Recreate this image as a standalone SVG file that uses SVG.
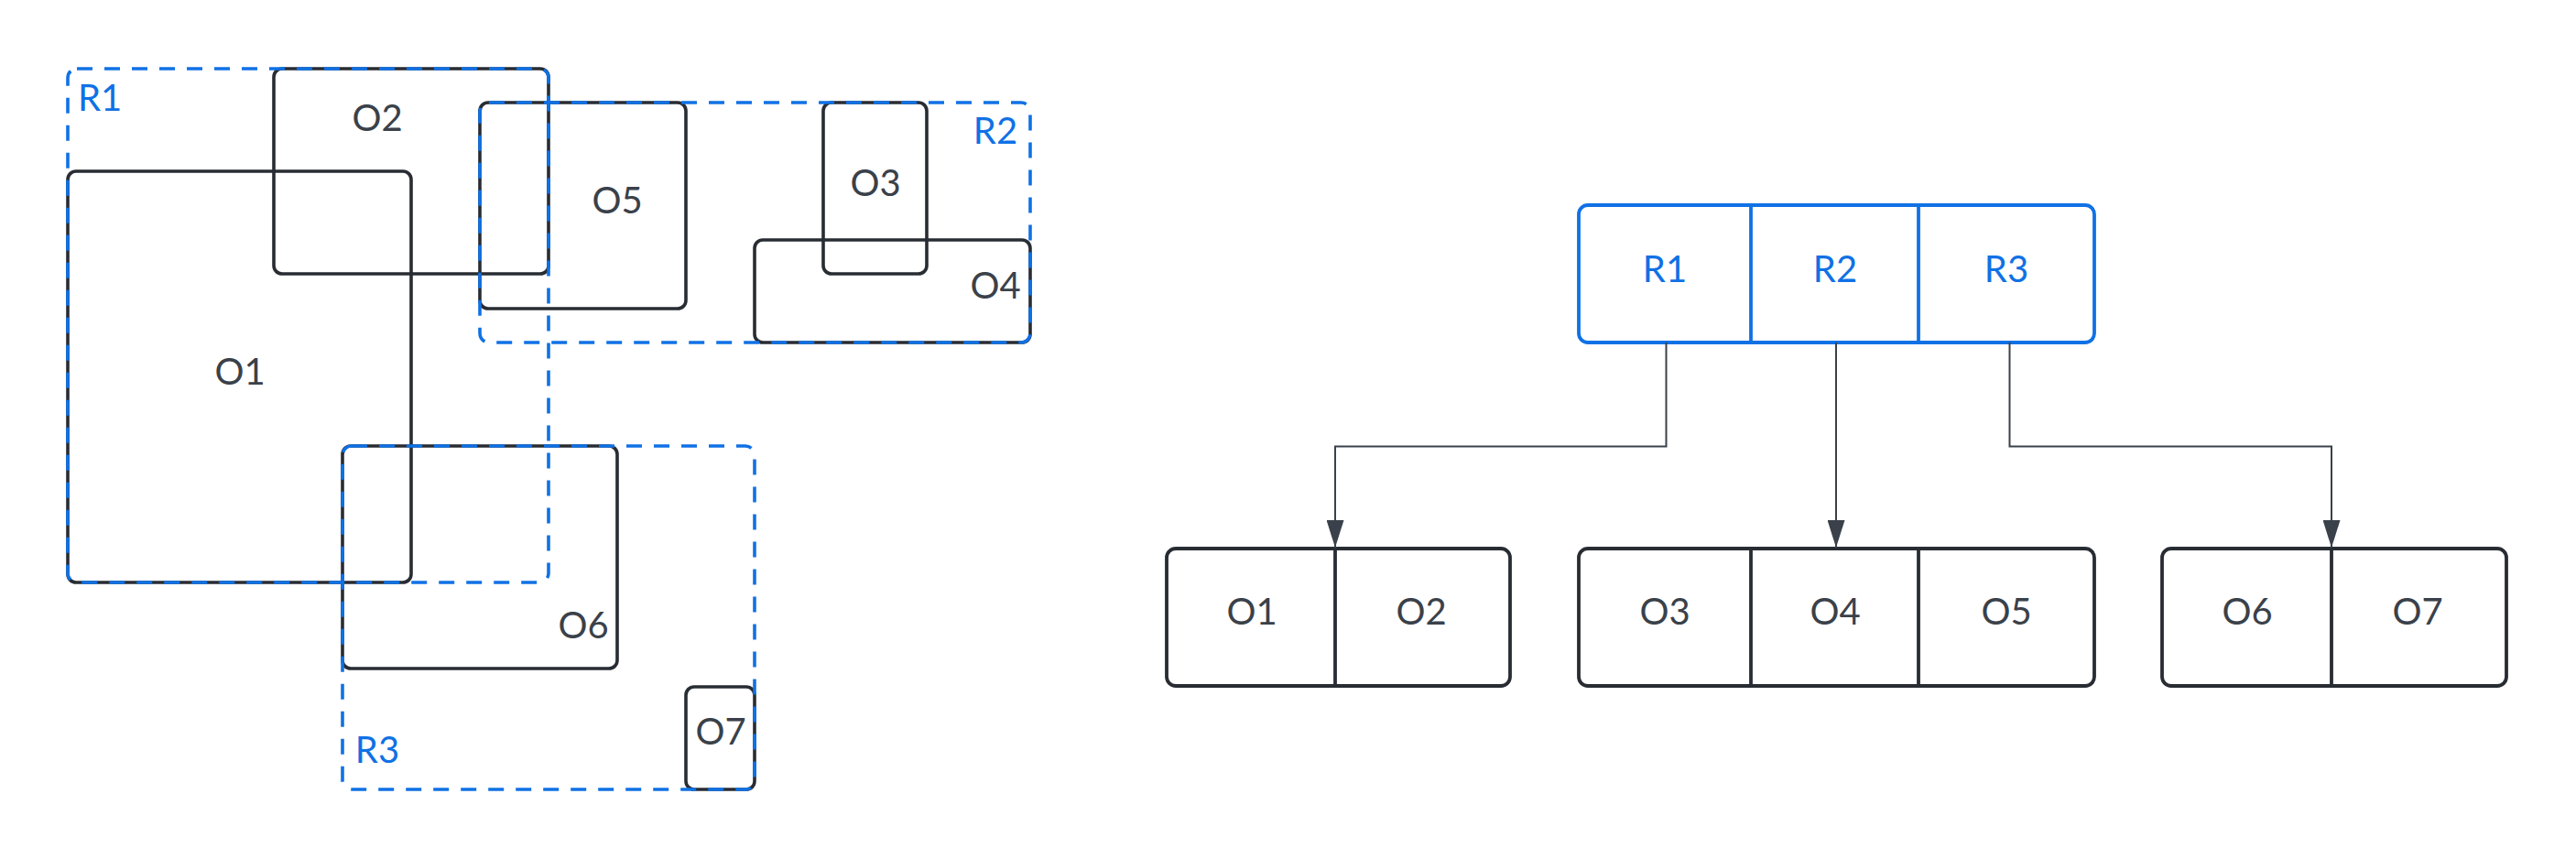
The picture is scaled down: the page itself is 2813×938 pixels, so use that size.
<svg xmlns="http://www.w3.org/2000/svg" width="2813" height="938" viewBox="0 0 2813 938">
<style>
.bg{fill:#ffffff}
.obj{fill:none;stroke:#282c33;stroke-width:3.6}
.reg{fill:none;stroke:#1071e5;stroke-width:3.6;stroke-dasharray:17 13}
.tbl{fill:none;stroke:#282c33;stroke-width:3.8}
.tblr{fill:none;stroke:#1071e5;stroke-width:3.8}
.div{stroke:#282c33;stroke-width:3.8}
.divr{stroke:#1071e5;stroke-width:3.8}
.t{font-family:Lato,"Liberation Sans",sans-serif;font-size:40px;fill:#3a414a}
.tr{font-family:Lato,"Liberation Sans",sans-serif;font-size:40px;fill:#1071e5}
.c{text-anchor:middle}
.conn{fill:none;stroke:#3a414a;stroke-width:2}
</style>
<defs>
<marker id="arr" viewBox="0 0 30 19" refX="30" refY="9.5" markerWidth="30" markerHeight="19" markerUnits="userSpaceOnUse" orient="auto">
<path d="M0 0 L30 9.5 L0 19 Z" fill="#3a414a"/>
</marker>
</defs>
<rect class="bg" x="0" y="0" width="2813" height="938"/>

<!-- Spatial objects -->
<g id="O1"><rect class="obj" x="74" y="187" width="375" height="449" rx="9"/><text class="t c" x="262" y="420">O1</text></g>
<g id="O2"><rect class="obj" x="299" y="75" width="300" height="224" rx="9"/><text class="t c" x="412" y="143">O2</text></g>
<g id="O5"><rect class="obj" x="524" y="112" width="225" height="225" rx="9"/><text class="t c" x="674" y="233">O5</text></g>
<g id="O3"><rect class="obj" x="899" y="112" width="113" height="187" rx="9"/><text class="t c" x="956" y="214">O3</text></g>
<g id="O4"><rect class="obj" x="824" y="262" width="301" height="112" rx="9"/><text class="t c" x="1087" y="326">O4</text></g>
<g id="O6"><rect class="obj" x="374" y="487" width="300" height="243" rx="9"/><text class="t c" x="637" y="697">O6</text></g>
<g id="O7"><rect class="obj" x="749" y="750" width="75" height="112" rx="9"/><text class="t c" x="787" y="813">O7</text></g>

<!-- Regions -->
<g id="R1"><rect class="reg" x="74" y="75" width="525" height="561" rx="10"/><text class="tr" x="85" y="121">R1</text></g>
<g id="R2"><rect class="reg" x="524" y="112" width="601" height="262" rx="10"/><text class="tr c" x="1087" y="157">R2</text></g>
<g id="R3"><rect class="reg" x="374" y="487" width="450" height="375" rx="10"/><text class="tr c" x="412" y="833">R3</text></g>

<!-- Tree -->
<g id="root">
<rect class="tblr" x="1724" y="224" width="563" height="150" rx="10"/>
<line class="divr" x1="1912" y1="224" x2="1912" y2="374"/>
<line class="divr" x1="2095" y1="224" x2="2095" y2="374"/>
<text class="tr c" x="1818" y="308">R1</text>
<text class="tr c" x="2004" y="308">R2</text>
<text class="tr c" x="2191" y="308">R3</text>
</g>
<g id="leaf1">
<rect class="tbl" x="1274" y="599" width="375" height="150" rx="10"/>
<line class="div" x1="1458" y1="599" x2="1458" y2="749"/>
<text class="t c" x="1367" y="682">O1</text>
<text class="t c" x="1552" y="682">O2</text>
</g>
<g id="leaf2">
<rect class="tbl" x="1724" y="599" width="563" height="150" rx="10"/>
<line class="div" x1="1912" y1="599" x2="1912" y2="749"/>
<line class="div" x1="2095" y1="599" x2="2095" y2="749"/>
<text class="t c" x="1818" y="682">O3</text>
<text class="t c" x="2004" y="682">O4</text>
<text class="t c" x="2191" y="682">O5</text>
</g>
<g id="leaf3">
<rect class="tbl" x="2361" y="599" width="376" height="150" rx="10"/>
<line class="div" x1="2546" y1="599" x2="2546" y2="749"/>
<text class="t c" x="2454" y="682">O6</text>
<text class="t c" x="2640" y="682">O7</text>
</g>

<g id="connectors">
<path class="conn" d="M1819.5 374 V487.5 H1458 V598" marker-end="url(#arr)"/>
<path class="conn" d="M2005 374 V598" marker-end="url(#arr)"/>
<path class="conn" d="M2194.5 374 V487.5 H2546 V598" marker-end="url(#arr)"/>
</g>
</svg>
